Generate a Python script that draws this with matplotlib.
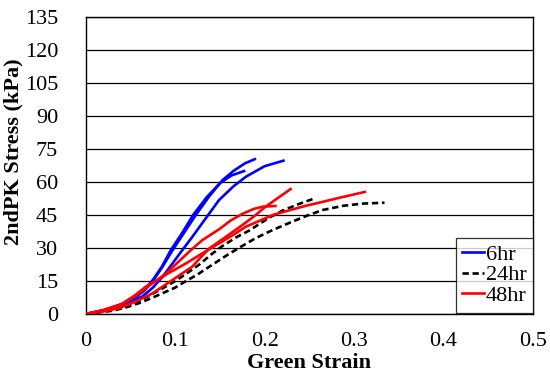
import matplotlib
matplotlib.use("Agg")
import matplotlib.pyplot as plt
from matplotlib.lines import Line2D

plt.rcParams['font.family'] = ['Liberation Serif', 'DejaVu Serif']

# --- 6hr specimens ---
strain_6a = [0, 0.02, 0.04, 0.055, 0.065, 0.075, 0.085, 0.097, 0.11, 0.123, 0.138, 0.153, 0.165, 0.178, 0.189]
stress_6a = [0, 1.5, 4.2, 7.5, 10.5, 15.0, 21.0, 29.0, 37.0, 45.0, 53.5, 60.9, 65.0, 68.5, 70.4]
strain_6b = [0, 0.02, 0.04, 0.055, 0.065, 0.075, 0.085, 0.095, 0.108, 0.120, 0.135, 0.150, 0.163, 0.177]
stress_6b = [0, 1.5, 4.2, 7.6, 10.8, 15.5, 21.5, 29.0, 37.0, 45.0, 53.0, 59.5, 63.0, 65.0]
strain_6c = [0, 0.025, 0.045, 0.063, 0.075, 0.086, 0.097, 0.108, 0.119, 0.130, 0.149, 0.165, 0.179, 0.200, 0.221]
stress_6c = [0, 2.2, 5.0, 7.9, 12.0, 17.0, 23.0, 29.1, 35.0, 41.2, 51.8, 58.0, 62.4, 67.2, 69.7]

# --- 24hr specimens ---
strain_24a = [0, 0.03, 0.045, 0.06, 0.072, 0.086, 0.1, 0.113, 0.127, 0.14, 0.153, 0.168, 0.183,
              0.195, 0.206, 0.22, 0.235, 0.245, 0.254]
stress_24a = [0, 2.0, 3.8, 6.0, 8.6, 11.7, 15.0, 18.5, 22.5, 27.0, 31.0, 34.8, 38.0,
              41.2, 44.0, 47.0, 49.5, 51.0, 52.3]
strain_24b = [0, 0.03, 0.045, 0.06, 0.075, 0.086, 0.1, 0.11, 0.125, 0.14, 0.155, 0.171, 0.19,
              0.209, 0.228, 0.246, 0.265, 0.288, 0.31, 0.334]
stress_24b = [0, 1.5, 3.0, 5.0, 7.5, 9.5, 12.0, 14.5, 18.0, 22.0, 26.0, 30.0, 34.5,
              38.2, 41.5, 44.5, 47.3, 49.2, 50.2, 50.6]

# --- 48hr specimens ---
strain_48a = [0, 0.02, 0.037, 0.055, 0.0745, 0.086, 0.097, 0.108, 0.119, 0.128, 0.138, 0.157,
              0.175, 0.19, 0.201, 0.215, 0.229]
stress_48a = [0, 1.2, 2.6, 5.5, 9.4, 12.5, 15.5, 18.5, 21.5, 25.5, 29.8, 35.2,
              40.4, 45.0, 48.8, 52.8, 56.8]
strain_48b = [0, 0.02, 0.04, 0.055, 0.067, 0.08, 0.09, 0.103, 0.116, 0.13, 0.149, 0.162,
              0.175, 0.188, 0.198, 0.212]
stress_48b = [0, 1.8, 4.5, 8.5, 12.4, 15.5, 18.5, 23.5, 28.5, 33.5, 38.5, 42.5,
              45.5, 47.8, 48.8, 49.1]
strain_48c = [0, 0.02, 0.04, 0.055, 0.0745, 0.09, 0.112, 0.13, 0.149, 0.165, 0.179, 0.195,
              0.209, 0.228, 0.246, 0.265, 0.28, 0.296, 0.312]
stress_48c = [0, 1.8, 4.5, 8.0, 14.0, 18.0, 23.0, 27.5, 32.1, 36.0, 39.7, 42.5,
              45.0, 47.2, 49.2, 51.0, 52.5, 54.0, 55.5]

groups = [
    ("6hr", "#0000ff", "-", [(strain_6a, stress_6a), (strain_6b, stress_6b), (strain_6c, stress_6c)]),
    ("24hr", "black", (0, (2.4, 1.4)), [(strain_24a, stress_24a), (strain_24b, stress_24b)]),
    ("48hr", "#ff0000", "-", [(strain_48a, stress_48a), (strain_48b, stress_48b), (strain_48c, stress_48c)]),
]

FS = 16

fig = plt.figure(figsize=(5.5, 3.79), dpi=100)
ax = fig.add_axes([0.156, 0.1715, 0.813, 0.7835])

handles = []
for name, color, ls, curves in groups:
    for x, y in curves:
        ax.plot(x, y, color=color, linestyle=ls, linewidth=1.9, zorder=3,
                solid_joinstyle="round", dash_joinstyle="round")
    handles.append(Line2D([], [], color=color, linestyle=ls, linewidth=1.9, label=name))

ax.set_xlim(0, 0.5)
ax.set_ylim(0, 135)
ax.set_xticks([0, 0.1, 0.2, 0.3, 0.4, 0.5])
ax.set_xticklabels(["0", "0.1", "0.2", "0.3", "0.4", "0.5"])
ax.set_yticks(range(0, 136, 15))
ax.yaxis.grid(True, color="black", linewidth=0.9)
ax.set_axisbelow(True)
ax.tick_params(axis="both", length=0, labelsize=FS)
ax.tick_params(axis="y", pad=20)
ax.tick_params(axis="x", pad=13)
for s in ax.spines.values():
    s.set_color("black")
    s.set_linewidth(1.0)

ax.set_xlabel("Green Strain", fontsize=FS, fontweight="bold")
ax.set_ylabel("2ndPK Stress (kPa)", fontsize=FS, fontweight="bold")
ax.xaxis.set_label_coords(0.5, -0.13)
ax.yaxis.set_label_coords(-0.14, 0.545)

leg = ax.legend(handles=handles, loc="lower right", bbox_to_anchor=(1.0, 0.005),
                fontsize=FS, frameon=True, fancybox=False, borderaxespad=0,
                handlelength=1.0, handletextpad=0.05, borderpad=0.3, labelspacing=0.0)
leg.get_frame().set_edgecolor("black")
leg.get_frame().set_linewidth(0.9)

fig.savefig("out.png", dpi=100)
